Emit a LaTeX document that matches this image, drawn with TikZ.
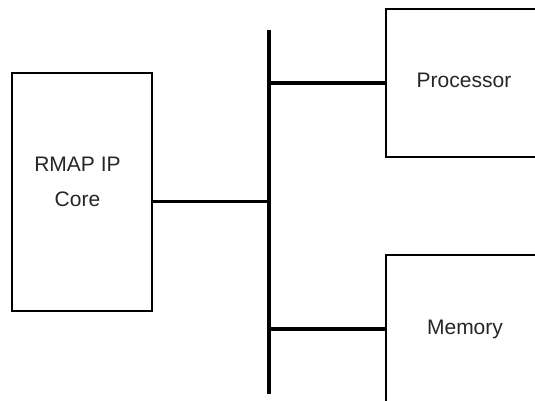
\documentclass[tikz,border=0pt]{standalone}
\usepackage{fontspec}
\setmainfont{Liberation Sans}
\begin{document}
\begin{tikzpicture}[x=1pt,y=-1pt,
  blockbox/.style={draw=black,line width=1.6pt,fill=white,inner sep=0pt},
  lbl/.style={font=\fontsize{21}{35}\selectfont,text=black!85,inner sep=0pt,align=center},
  conn/.style={line width=3.4pt,draw=black},
  busline/.style={line width=4.6pt,draw=black}]
\useasboundingbox (0,0) rectangle (535,401);
\clip (0,0) rectangle (535,401);
% boxes
\node[blockbox,minimum width=139.7pt,minimum height=237.7pt] (rmap) at (81.85,191.85) {};
\node[blockbox,minimum width=158pt,minimum height=148pt] (proc) at (465,83) {};
\node[blockbox,minimum width=158pt,minimum height=200pt] (mem) at (465,355) {};
% texts
\node[lbl,anchor=base] (rmaptext) at (77.5,206.7) {RMAP IP\\Core};
\node[lbl,anchor=base] (proctext) at (464,87.3) {Processor};
\node[lbl,anchor=base] (memtext) at (465,334) {Memory};
% bus
\coordinate (bustop) at (269,30);
\coordinate (busbot) at (269,394);
\draw[busline] (bustop) -- (busbot);
% ports
\coordinate (rmapport) at (rmap.east |- 0,201.7);
\coordinate (procport) at (proc.west |- 0,83);
\coordinate (memport) at (mem.west |- 0,329);
\draw[conn] (rmapport) -- (rmapport -| bustop);
\draw[conn] (procport -| bustop) -- (procport);
\draw[conn] (memport -| bustop) -- (memport);
\end{tikzpicture}
\end{document}
